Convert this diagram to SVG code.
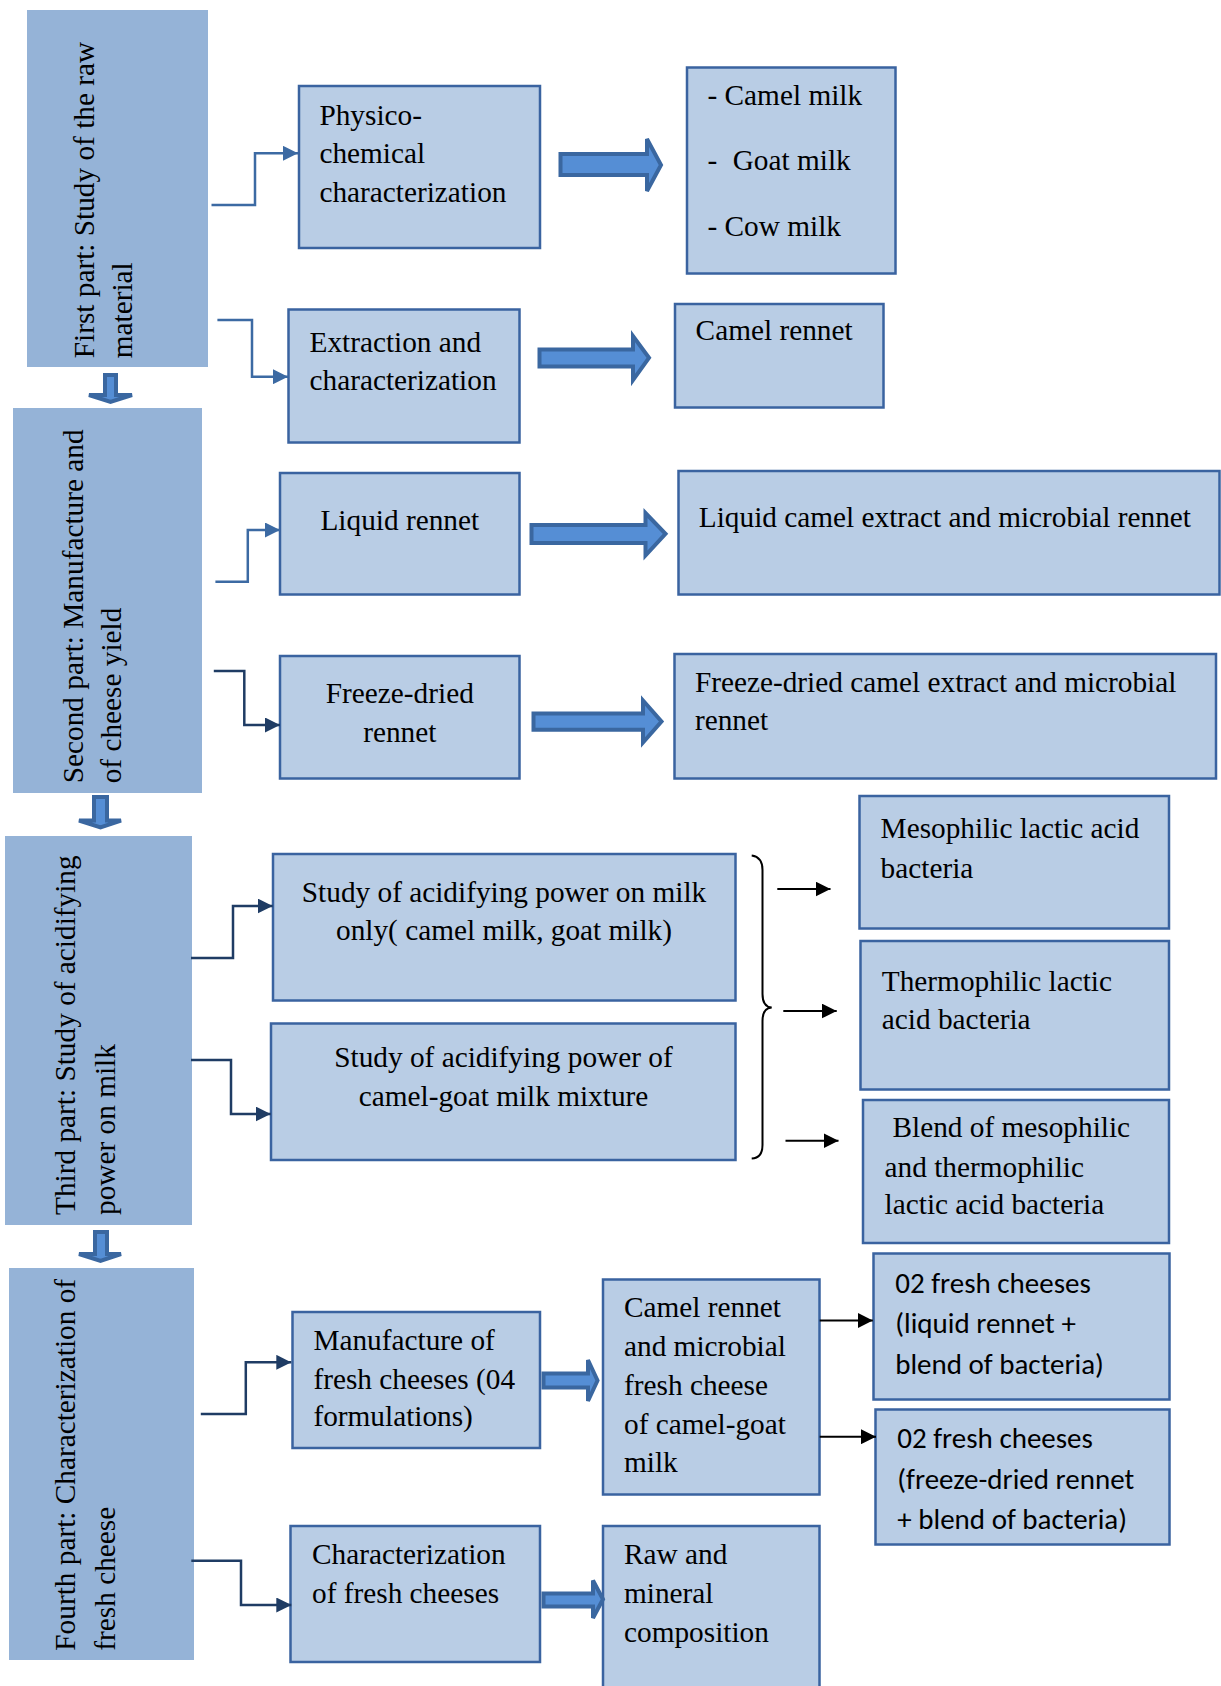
<svg xmlns="http://www.w3.org/2000/svg" width="1221" height="1686" viewBox="0 0 1221 1686">
<style>
.part{fill:#95B3D7}
.box{fill:#B9CDE5;stroke:#3A63A0;stroke-width:2.5}
.t{font-family:'Liberation Serif','Times New Roman',serif;font-size:29.3px;fill:#000;white-space:pre}
.s{font-family:Carlito,Lato,'Liberation Sans',sans-serif;font-size:29px;fill:#000}
.blk{fill:#558ED5;stroke:#3A67A0;stroke-width:4;stroke-linejoin:miter}
.el1{fill:none;stroke:#3C6AA3;stroke-width:2.5}
.el2{fill:none;stroke:#1F3C64;stroke-width:2.5}
.ar{fill:none;stroke:#000;stroke-width:2}
.c{text-anchor:middle}
</style>
<defs>
<marker id="m1" markerUnits="userSpaceOnUse" viewBox="0 0 15 15" refX="15" refY="7.5" markerWidth="15" markerHeight="15" orient="auto"><path d="M0,0 L15,7.5 L0,15 Z" fill="#3C6AA3"/></marker>
<marker id="m2" markerUnits="userSpaceOnUse" viewBox="0 0 15 15" refX="15" refY="7.5" markerWidth="15" markerHeight="15" orient="auto"><path d="M0,0 L15,7.5 L0,15 Z" fill="#1F3C64"/></marker>
<marker id="mk" markerUnits="userSpaceOnUse" viewBox="0 0 15 15" refX="15" refY="7.5" markerWidth="15" markerHeight="15" orient="auto"><path d="M0,0 L15,7.5 L0,15 Z" fill="#000"/></marker>
</defs>

<g id="part1">
<rect class="part" x="27" y="10" width="181" height="357"/>
<text class="t" transform="translate(93.7,358.3) rotate(-90)">First part: Study of the raw</text>
<text class="t" transform="translate(132.4,358.3) rotate(-90)">material</text>
</g>
<g id="part2">
<rect class="part" x="13" y="408" width="189" height="385"/>
<text class="t" transform="translate(83,783.3) rotate(-90)">Second part: Manufacture and</text>
<text class="t" transform="translate(120.6,783.3) rotate(-90)">of cheese yield</text>
</g>
<g id="part3">
<rect class="part" x="5" y="836" width="187" height="389"/>
<text class="t" transform="translate(75,1215) rotate(-90)">Third part: Study of acidifying</text>
<text class="t" transform="translate(114.7,1215) rotate(-90)">power on milk</text>
</g>
<g id="part4">
<rect class="part" x="9" y="1268" width="185" height="392"/>
<text class="t" transform="translate(75,1650.7) rotate(-90)">Fourth part: Characterization of</text>
<text class="t" transform="translate(114.7,1650.7) rotate(-90)">fresh cheese</text>
</g>

<g id="physico">
<rect class="box" x="299" y="86" width="241" height="162"/>
<text class="t" x="319.4" y="125">Physico-</text>
<text class="t" x="319.4" y="163">chemical</text>
<text class="t" x="319.4" y="201.7">characterization</text>
</g>
<g id="milks">
<rect class="box" x="687" y="67.5" width="208.5" height="206"/>
<text class="t" x="707.5" y="105">- Camel milk</text>
<text class="t" y="170"><tspan x="707.5">-</tspan><tspan x="732.7">Goat milk</tspan></text>
<text class="t" x="707.5" y="236">- Cow milk</text>
</g>
<g id="extraction">
<rect class="box" x="288.5" y="309.5" width="231" height="133"/>
<text class="t" x="309.5" y="351.7">Extraction and</text>
<text class="t" x="309.5" y="390">characterization</text>
</g>
<g id="camel-rennet">
<rect class="box" x="675" y="304" width="208.5" height="103.5"/>
<text class="t" x="695.6" y="340">Camel rennet</text>
</g>
<g id="liquid-rennet">
<rect class="box" x="280" y="473" width="239.5" height="121.5"/>
<text class="t c" x="399.8" y="530">Liquid rennet</text>
</g>
<g id="liquid-camel">
<rect class="box" x="678.5" y="471" width="541" height="123.5"/>
<text class="t" x="698.8" y="526.7">Liquid camel extract and microbial rennet</text>
</g>
<g id="freeze-rennet">
<rect class="box" x="280" y="656" width="239.5" height="122.5"/>
<text class="t c" x="399.8" y="703.3">Freeze-dried</text>
<text class="t c" x="399.8" y="741.7">rennet</text>
</g>
<g id="freeze-camel">
<rect class="box" x="674.5" y="654" width="541.5" height="124.5"/>
<text class="t" x="694.9" y="691.7">Freeze-dried camel extract and microbial</text>
<text class="t" x="694.9" y="730">rennet</text>
</g>
<g id="study1">
<rect class="box" x="273" y="854" width="462.5" height="146.5"/>
<text class="t c" x="504" y="901.7">Study of acidifying power on milk</text>
<text class="t c" x="504" y="940">only( camel milk, goat milk)</text>
</g>
<g id="study2">
<rect class="box" x="271" y="1023.5" width="464.5" height="136.5"/>
<text class="t c" x="503.5" y="1066.7">Study of acidifying power of</text>
<text class="t c" x="503.5" y="1106">camel-goat milk mixture</text>
</g>
<g id="mesophilic">
<rect class="box" x="859.5" y="796" width="309.5" height="132.5"/>
<text class="t" x="880.6" y="838.3">Mesophilic lactic acid</text>
<text class="t" x="880.6" y="878.3">bacteria</text>
</g>
<g id="thermophilic">
<rect class="box" x="860.5" y="941" width="308.5" height="148.5"/>
<text class="t" x="881.8" y="990.7">Thermophilic lactic</text>
<text class="t" x="881.8" y="1029.3">acid bacteria</text>
</g>
<g id="blend">
<rect class="box" x="863" y="1100" width="306" height="143"/>
<text class="t" x="892.5" y="1137.3">Blend of mesophilic</text>
<text class="t" x="884.6" y="1176.7">and thermophilic</text>
<text class="t" x="884.6" y="1214.3">lactic acid bacteria</text>
</g>
<g id="manufacture">
<rect class="box" x="292.5" y="1312" width="247.5" height="136"/>
<text class="t" x="313.4" y="1350">Manufacture of</text>
<text class="t" x="313.4" y="1389.3">fresh cheeses (04</text>
<text class="t" x="313.4" y="1426">formulations)</text>
</g>
<g id="characterization">
<rect class="box" x="290.5" y="1526" width="249.5" height="136"/>
<text class="t" x="312" y="1564">Characterization</text>
<text class="t" x="312" y="1602.7">of fresh cheeses</text>
</g>
<g id="camel-microbial">
<rect class="box" x="603" y="1279.5" width="216.5" height="215"/>
<text class="t" x="624" y="1316.7">Camel rennet</text>
<text class="t" x="624" y="1356">and microbial</text>
<text class="t" x="624" y="1395">fresh cheese</text>
<text class="t" x="624" y="1434">of camel-goat</text>
<text class="t" x="624" y="1471.7">milk</text>
</g>
<g id="raw-mineral">
<rect class="box" x="603" y="1526" width="216.5" height="170"/>
<text class="t" x="624" y="1564.3">Raw and</text>
<text class="t" x="624" y="1603.3">mineral</text>
<text class="t" x="624" y="1641.7">composition</text>
</g>
<g id="fresh1">
<rect class="box" x="873.5" y="1253.5" width="296" height="146"/>
<text class="s" x="895.2" y="1292.7">02 fresh cheeses</text>
<text class="s" x="895.2" y="1333.3">(liquid rennet +</text>
<text class="s" x="895.2" y="1374">blend of bacteria)</text>
</g>
<g id="fresh2">
<rect class="box" x="875.5" y="1409.5" width="294" height="135"/>
<text class="s" x="897.3" y="1448.3">02 fresh cheeses</text>
<text class="s" x="897.3" y="1489.3">(freeze-dried rennet</text>
<text class="s" x="897.3" y="1529.3">+ blend of bacteria)</text>
</g>

<g id="connectors">
<path class="blk" d="M105,375 H116 V395 H132 L110.5,402 L89,395 H105 Z"/>
<path class="blk" d="M94,797 H107 V820.5 H121 L100.5,827.5 L79,820.5 H94 Z"/>
<path class="blk" d="M95,1232 H107 V1254 H121 L100.5,1261 L79,1254 H95 Z"/>
<path class="blk" d="M560.5,154 H647 V139 L661,165 L647,191 V175 H560.5 Z"/>
<path class="blk" d="M539.5,349.5 H633 V336 L649,357.8 L633,380 V366.5 H539.5 Z"/>
<path class="blk" d="M531.5,525 H645.5 V513 L665.5,533.8 L645.5,555.5 V543 H531.5 Z"/>
<path class="blk" d="M533.5,713.5 H643 V700.5 L661.5,721.5 L643,742.5 V729.8 H533.5 Z"/>
<path class="blk" d="M543.5,1373.5 H588 V1360 L597.5,1380.5 L588,1401 V1387.5 H543.5 Z"/>
<path class="blk" d="M543.5,1593.5 H593 V1580.5 L603,1599.3 L593,1618 V1606.5 H543.5 Z"/>
<path class="el1" d="M211.5,205 H255 V153.3 H298" marker-end="url(#m1)"/>
<path class="el1" d="M217.4,320 H252 V376.7 H288" marker-end="url(#m1)"/>
<path class="el1" d="M215.4,581.7 H247.8 V530 H280" marker-end="url(#m1)"/>
<path class="el2" d="M213.8,671 H244.3 V725 H280" marker-end="url(#m2)"/>
<path class="el2" d="M191,958 H233 V906 H272.7" marker-end="url(#m2)"/>
<path class="el2" d="M191,1060 H231 V1114 H270.7" marker-end="url(#m2)"/>
<path class="el2" d="M200.8,1414 H245.8 V1362.3 H291.3" marker-end="url(#m2)"/>
<path class="el2" d="M191.3,1560.7 H241 V1605 H291.3" marker-end="url(#m2)"/>
<path class="ar" d="M751.7,855.5 Q762.5,857 762.5,870 V994 Q762.5,1007 771.7,1007.5 Q762.5,1008 762.5,1021 V1145 Q762.5,1158 751.7,1158.5" stroke-width="1.8"/>
<path class="ar" d="M777.3,889 H830.5" marker-end="url(#mk)"/>
<path class="ar" d="M783.3,1011 H836.7" marker-end="url(#mk)"/>
<path class="ar" d="M785.5,1140.7 H838.5" marker-end="url(#mk)"/>
<path class="ar" d="M819.7,1320.5 H872.8" marker-end="url(#mk)"/>
<path class="ar" d="M819.7,1436.7 H876" marker-end="url(#mk)"/>
</g>
</svg>
